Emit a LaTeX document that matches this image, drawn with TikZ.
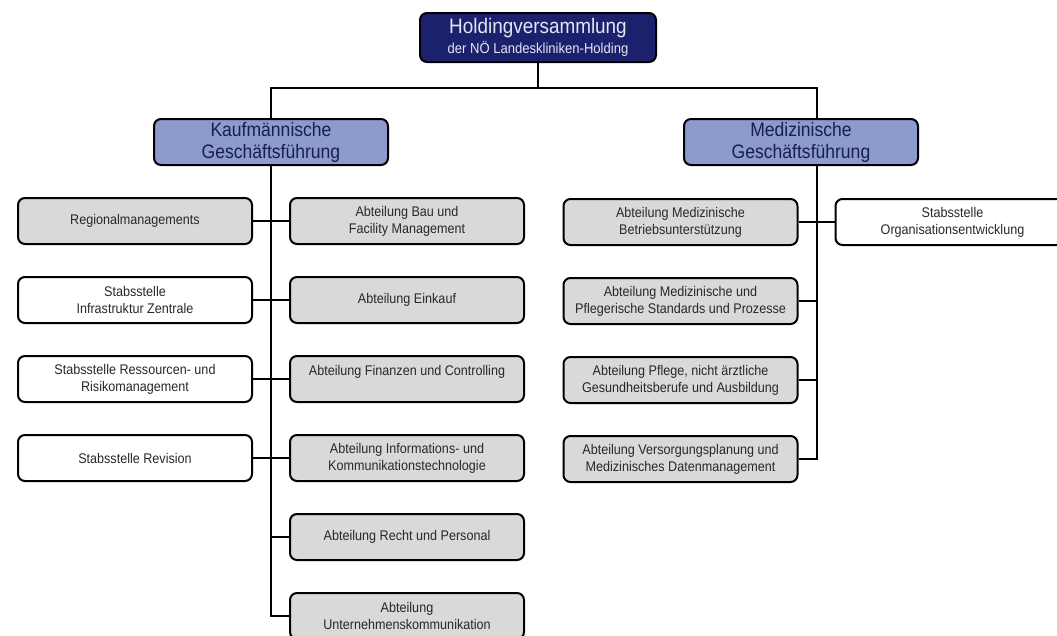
\documentclass[tikz,border=0pt]{standalone}
\usepackage{fontspec}
\setmainfont{Liberation Sans}[FakeStretch=0.9]
\usetikzlibrary{positioning}

\definecolor{holdingblau}{RGB}{28,33,110}
\definecolor{holdingtext}{RGB}{228,230,242}
\definecolor{leitungblau}{RGB}{140,154,204}
\definecolor{leitungtext}{RGB}{24,30,82}
\definecolor{abtgrau}{RGB}{217,217,217}
\definecolor{textgrau}{RGB}{40,40,40}

\begin{document}
\begin{tikzpicture}%
  [x=1pt,y=-1pt,
   node distance=31pt and 36pt,
   box/.style=
    {draw=black,line width=2pt,rounded corners=7pt,minimum width=234pt,
     minimum height=46pt,align=center,inner sep=2pt},
   abt/.style=
    {box,fill=abtgrau,text=textgrau,font=\fontsize{14}{17}\selectfont},
   stab/.style=
    {box,fill=white,text=textgrau,font=\fontsize{14}{17}\selectfont},
   leitung/.style=
    {box,fill=leitungblau,text=leitungtext,font=\fontsize{19.5}{22}\selectfont},
   holding/.style=
    {box,fill=holdingblau,text=holdingtext,minimum width=236pt,minimum height=49pt,
     font=\fontsize{14.5}{20}\selectfont},
   conn/.style={line width=2pt}
  ]
  \useasboundingbox (0,0) rectangle (1057,635);

  \node[holding] (hold) at (538,37.5)
    {{\fontsize{21}{24}\selectfont Holdingversammlung}\\der NÖ Landeskliniken-Holding};
  \node[leitung] (kfm) at (271,142) {Kaufmännische\\Geschäftsführung};
  \node[leitung] (med) at (801,142) {Medizinische\\Geschäftsführung};
  \coordinate (branch) at (538,88);
  \coordinate (mspine) at (817,88);
  \draw[conn] (hold) -- (branch);
  \draw[conn] (kfm.north) |- (branch) -| (mspine |- med.north);

  \node[abt] (bau) at (407,221) {Abteilung Bau und\\Facility Management};
  \node[abt,below=of bau] (einkauf) {Abteilung Einkauf};
  \node[abt,below=of einkauf] (finanzen) {Abteilung Finanzen und Controlling\\\mbox{}};
  \node[abt,below=of finanzen] (ikt) {Abteilung Informations- und\\Kommunikationstechnologie};
  \node[abt,below=of ikt] (recht) {Abteilung Recht und Personal};
  \node[abt,below=of recht] (unk) {Abteilung\\Unternehmenskommunikation};
  \node[abt,left=of bau] (regio) {Regionalmanagements};
  \node[stab,left=of einkauf] (infra) {Stabsstelle\\Infrastruktur Zentrale};
  \node[stab,left=of finanzen] (risiko) {Stabsstelle Ressourcen- und\\Risikomanagement};
  \node[stab,left=of ikt] (revision) {Stabsstelle Revision};
  \draw[conn] (kfm.south) |- (unk.west);
  \draw[conn] (kfm.south) |- (recht.west);
  \draw[conn] (regio) -- (bau);
  \draw[conn] (infra) -- (einkauf);
  \draw[conn] (risiko) -- (finanzen);
  \draw[conn] (revision) -- (ikt);

  \node[abt] (mbu) at (680.5,222) {Abteilung Medizinische\\Betriebsunterstützung};
  \node[abt,below=of mbu] (standards) {Abteilung Medizinische und\\Pflegerische Standards und Prozesse};
  \node[abt,below=of standards] (pflege) {Abteilung Pflege, nicht ärztliche\\Gesundheitsberufe und Ausbildung};
  \node[abt,below=of pflege] (vdm) {Abteilung Versorgungsplanung und\\Medizinisches Datenmanagement};
  \node[stab,right=of mbu] (orga) {Stabsstelle\\Organisationsentwicklung};
  \draw[conn] (mspine |- med.south) |- (vdm.east);
  \draw[conn] (mbu) -- (orga);
  \draw[conn] (standards.east) -- (standards.east -| mspine);
  \draw[conn] (pflege.east) -- (pflege.east -| mspine);

\end{tikzpicture}
\end{document}
